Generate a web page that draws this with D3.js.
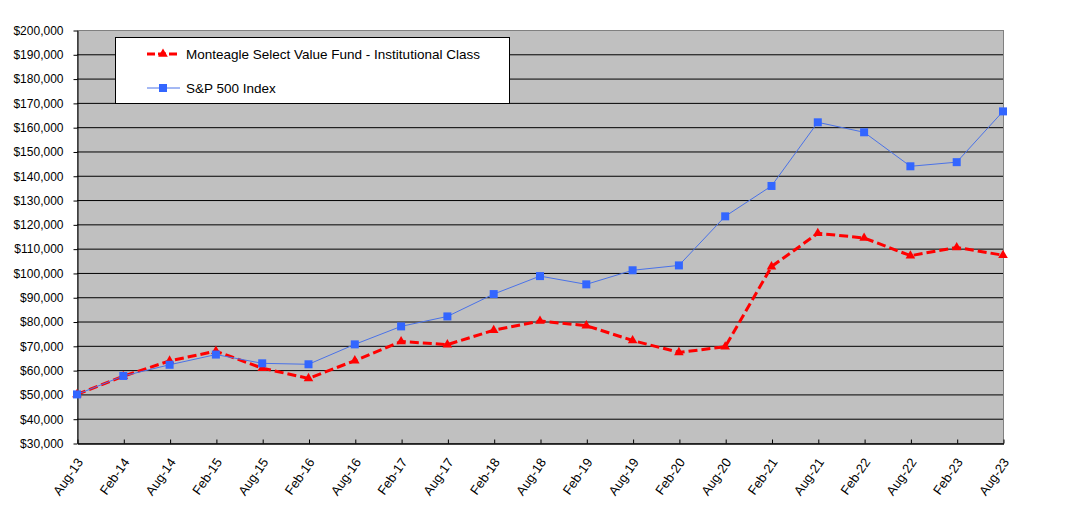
<!DOCTYPE html>
<html>
<head>
<meta charset="utf-8">
<script src="https://cdn.jsdelivr.net/npm/d3@7"></script>
<style>
    body { margin: 0; background: #fff; }
    text { font-family: "Liberation Sans", Arial, sans-serif; }
</style>
</head>
<body>
<div id="chart"></div>
<script>
const periods = ["Aug-13", "Feb-14", "Aug-14", "Feb-15", "Aug-15", "Feb-16", "Aug-16", "Feb-17", "Aug-17", "Feb-18", "Aug-18",
    "Feb-19", "Aug-19", "Feb-20", "Aug-20", "Feb-21", "Aug-21", "Feb-22", "Aug-22", "Feb-23", "Aug-23"];

const fundValues = [50000, 57500, 63800, 67800, 60800, 56600, 63900, 71800, 70500, 76400, 80200,
    78300, 72200, 67300, 69600, 102600, 116300, 114400, 107100, 110500, 107300];

const spValues = [50000, 57600, 62200, 66400, 62800, 62400, 70600, 78000, 82100, 91300, 98700,
    95300, 101100, 103100, 123300, 135800, 162000, 157900, 143900, 145600, 166500];

const yTicks = d3.range(30000, 200001, 10000);

const width = 1068;
const height = 530;
const margin = { top: 30, right: 65, bottom: 87, left: 77 };

const svg = d3.select("#chart")
    .append("svg")
    .attr("width", width)
    .attr("height", height);

const x = d3.scalePoint()
    .domain(periods)
    .range([margin.left, width - margin.right]);

const y = d3.scaleLinear()
    .domain([30000, 200000])
    .range([height - margin.bottom, margin.top]);

// plot background
svg.append("rect")
    .attr("x", margin.left + 0.5)
    .attr("y", margin.top + 0.5)
    .attr("width", width - margin.right - margin.left)
    .attr("height", height - margin.bottom - margin.top)
    .attr("fill", "#c0c0c0")
    .attr("stroke", "#808080");

// gridlines
svg.append("g")
    .selectAll("line")
    .data(yTicks.slice(1, -1))
    .enter()
    .append("line")
    .attr("x1", margin.left)
    .attr("x2", width - margin.right)
    .attr("y1", d => y(d) + 0.5)
    .attr("y2", d => y(d) + 0.5)
    .attr("stroke", "#000")
    .attr("stroke-width", 1);

const fmt = d => "$" + d3.format(",")(d);

const yAxis = svg.append("g")
    .attr("transform", `translate(${margin.left + 0.5},0.5)`)
    .call(d3.axisLeft(y).tickValues(yTicks).tickFormat(fmt).tickSize(4).tickSizeOuter(0));
yAxis.select(".domain").attr("stroke", "#000");
yAxis.selectAll("text")
    .attr("font-size", 12)
    .attr("font-family", "Liberation Sans, Arial, sans-serif")
    .attr("fill", "#000")
    .attr("x", -14);

const xAxis = svg.append("g")
    .attr("transform", `translate(0.5,${height - margin.bottom + 0.5})`)
    .call(d3.axisBottom(x).tickSize(-4).tickSizeOuter(0));
xAxis.select(".domain").attr("stroke", "#000").attr("stroke-width", 1.5);
xAxis.selectAll("text")
    .attr("font-size", 13)
    .attr("font-family", "Liberation Sans, Arial, sans-serif")
    .attr("fill", "#000")
    .attr("text-anchor", "end")
    .attr("dy", "0.35em")
    .attr("transform", "translate(2,16) rotate(-55)")
    .attr("x", 0)
    .attr("y", 0);

// lines
const line = d3.line()
    .x((d, i) => x(periods[i]))
    .y(d => y(d));

const red = "#ff0000";
const blue = "#3366ff";

svg.append("path")
    .datum(fundValues)
    .attr("fill", "none")
    .attr("stroke", red)
    .attr("stroke-width", 3)
    .attr("stroke-dasharray", "9,4")
    .attr("d", line);

const tri = d3.symbol().type(d3.symbolTriangle).size(40);

svg.append("g")
    .selectAll("path")
    .data(fundValues)
    .enter()
    .append("path")
    .attr("d", tri)
    .attr("transform", (d, i) => `translate(${x(periods[i])},${y(d)})`)
    .attr("fill", red);

svg.append("path")
    .datum(spValues)
    .attr("fill", "none")
    .attr("stroke", "#4a72e8")
    .attr("stroke-width", 1)
    .attr("d", line);

svg.append("g")
    .selectAll("rect")
    .data(spValues)
    .enter()
    .append("rect")
    .attr("x", (d, i) => x(periods[i]) - 4)
    .attr("y", d => y(d) - 4)
    .attr("width", 8)
    .attr("height", 8)
    .attr("fill", blue);

// legend
const legend = svg.append("g");
legend.append("rect")
    .attr("x", 115.5)
    .attr("y", 37.5)
    .attr("width", 394)
    .attr("height", 66)
    .attr("fill", "#fff")
    .attr("stroke", "#000");

legend.append("line")
    .attr("x1", 147).attr("x2", 180)
    .attr("y1", 54).attr("y2", 54)
    .attr("stroke", red)
    .attr("stroke-width", 3)
    .attr("stroke-dasharray", "8,3");
legend.append("path")
    .attr("d", tri)
    .attr("transform", "translate(163,54)")
    .attr("fill", red);
legend.append("text")
    .attr("x", 186).attr("y", 54)
    .attr("dy", "0.35em")
    .attr("font-size", 13.5)
    .text("Monteagle Select Value Fund - Institutional Class");

legend.append("line")
    .attr("x1", 147).attr("x2", 180)
    .attr("y1", 88).attr("y2", 88)
    .attr("stroke", "#4a72e8")
    .attr("stroke-width", 1);
legend.append("rect")
    .attr("x", 159).attr("y", 84)
    .attr("width", 8).attr("height", 8)
    .attr("fill", blue);
legend.append("text")
    .attr("x", 186).attr("y", 88)
    .attr("dy", "0.35em")
    .attr("font-size", 13.5)
    .text("S&P 500 Index");
</script>
</body>
</html>
